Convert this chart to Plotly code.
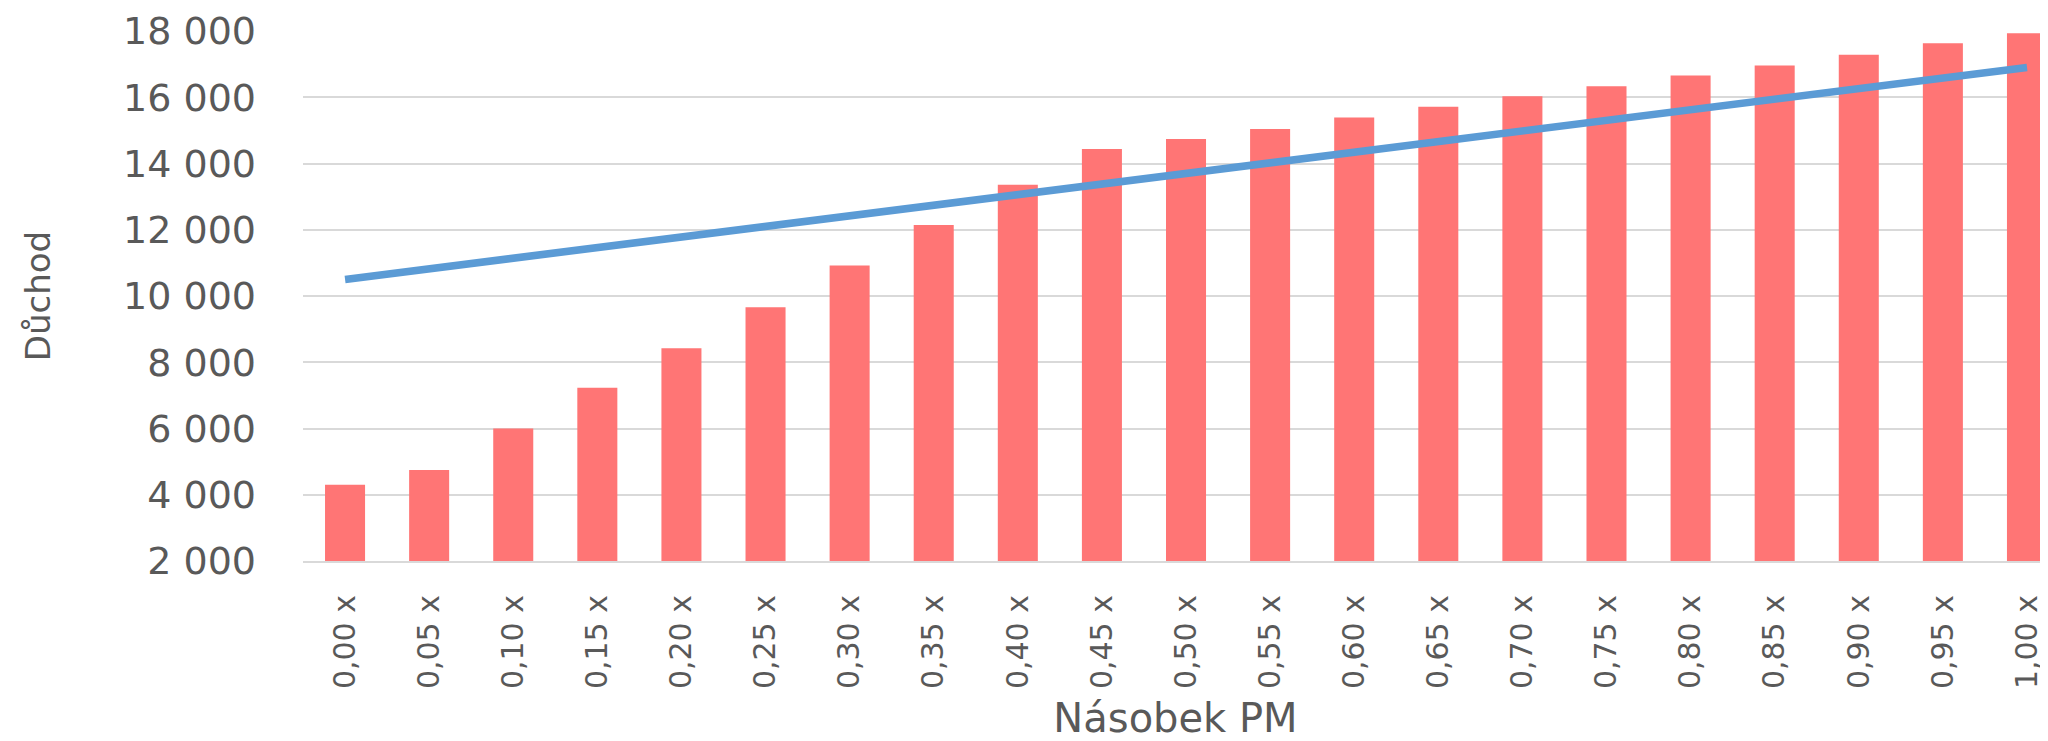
import plotly.graph_objects as go

# multiples of the subsistence minimum (PM)
nasobky = ["0,00 x", "0,05 x", "0,10 x", "0,15 x", "0,20 x", "0,25 x", "0,30 x",
           "0,35 x", "0,40 x", "0,45 x", "0,50 x", "0,55 x", "0,60 x", "0,65 x",
           "0,70 x", "0,75 x", "0,80 x", "0,85 x", "0,90 x", "0,95 x", "1,00 x"]

# bar series (pension)
duchod = [4300, 4750, 6000, 7230, 8420, 9660, 10920, 12140, 13360, 14440, 14740,
          15040, 15390, 15710, 16030, 16330, 16660, 16960, 17280, 17630, 17930]

# line series
linie = [10500, 10820, 11140, 11460, 11780, 12100, 12420, 12740, 13060, 13380, 13700,
         14020, 14340, 14660, 14980, 15300, 15620, 15940, 16260, 16580, 16900]

y_ticks = [2000, 4000, 6000, 8000, 10000, 12000, 14000, 16000, 18000]

fig = go.Figure()
fig.add_trace(go.Bar(x=nasobky, y=duchod, marker_color="#FF7575", marker_line_width=0))
fig.add_trace(go.Scatter(x=nasobky, y=linie, mode="lines",
                         line=dict(color="#5B9BD5", width=7.5)))

# page body has an 8px margin, so the figure is 8px smaller than the window
fig.update_layout(
    width=2040, height=733,
    margin=dict(l=295, r=0, t=23, b=176),
    plot_bgcolor="white", paper_bgcolor="white",
    showlegend=False,
    bargap=0.524,
    separators=", ",
    font=dict(family="DejaVu Sans", color="#595959"),
)
fig.update_yaxes(
    range=[2000, 18000], tickvals=y_ticks, tickformat=",d",
    showgrid=True, gridcolor="#D9D9D9", gridwidth=2, zeroline=False,
    tickfont=dict(size=38, color="#595959"), ticklabelstandoff=46,
    title=dict(text="Důchod", font=dict(size=34, color="#595959"), standoff=62),
)
fig.update_xaxes(
    type="category", range=[-0.5, 20.25], tickangle=-90,
    showline=True, linecolor="#D9D9D9", linewidth=2,
    tickfont=dict(size=30, color="#595959"), ticklabelstandoff=20,
    title=dict(text="Násobek PM", font=dict(size=40, color="#595959"), standoff=24),
)

fig.write_html("out.html")
